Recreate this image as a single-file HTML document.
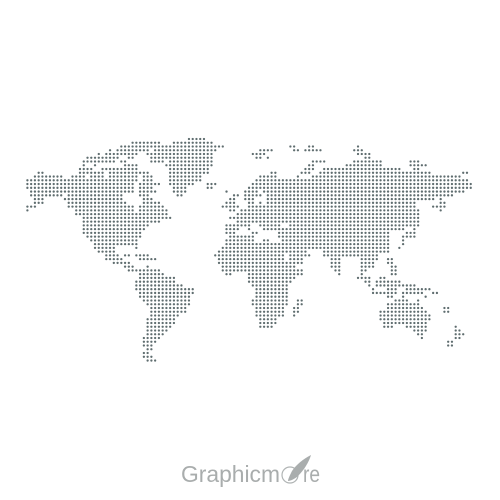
<!DOCTYPE html>
<html>
<head>
<meta charset="utf-8">
<title>Dotted World Map</title>
<style>
html,body{margin:0;padding:0;background:#fff;width:500px;height:500px;overflow:hidden}
svg{display:block}
</style>
</head>
<body>
<svg id="map" width="500" height="500" viewBox="0 0 500 500" xmlns="http://www.w3.org/2000/svg">
<rect width="500" height="500" fill="#ffffff"/>
<g id="dots"></g>
<g>
<text x="181" y="482" font-family="'Liberation Sans',sans-serif" font-size="23" fill="#a9adad" textLength="99" lengthAdjust="spacingAndGlyphs">Graphicm</text>
<circle cx="290" cy="475" r="8" fill="none" stroke="#b0b4b4" stroke-width="1.2"/>
<path d="M311 455 C303 459 296 465 292 471 C290 475 288 479 288 481 C290 481 295 479 298 476 C304 470 309 462 311 455Z" fill="#a9adad"/>
<text x="303" y="482" font-family="'Liberation Sans',sans-serif" font-size="23" fill="#a9adad" textLength="17" lengthAdjust="spacingAndGlyphs">re</text>
</g>
</svg>
<script>
const rowRuns = [
"43-47",
"28-35 39-49",
"25-33 34-52 70-71 75-76 88",
"22 24-32 34-50 62-65 71-72 74-78 87-89",
"19 21-22 23-29 32-49 60-63 88-91",
"16-20 21-23 24 27-28 33-49 61-62 64 90-91",
"15-23 25-26 33-36 38-49 76-79 87-94 102-104",
"15 18 26-29 37-49 75-76 85-94 102-106",
"14-17 20-29 38-48 74-76 79-99 103-104",
"3-4 14-20 22-24 25-32 38-48 65-66 73-75 78-107 116-117",
"2-9 12-15 17-20 22-29 31-33 38-46 62-66 72 76-115",
"0-29 31 32-33 38-46 61-117",
"0-28 30-31 32-35 38-44 48-50 60-118",
"0-28 30-33 39-42 48-49 59-118",
"1-28 30-34 39-42 53 58-61 63-116",
"1-9 11-25 30-32 40-41 55-56 58-62 64-113",
"2-4 10-25 31-33 54-55 58-60 64-108 110",
"2-4 11-26 31-35 53-55 59-60 62 64-103 110-111",
"0-2 11-28 30-36 52-56 59-103 108-111",
"0 13-28 30-37 54-55 57-104 110",
"13-31 32-37 56-104",
"15-35 36-38 54-55 56-104",
"15-35 56-104",
"15-32 53-56 57-59 62-67 70-104",
"15-31 53-56 59 63-100 103",
"15-30 53-55 60-61 67-96 101-103",
"16-30 54-60 67-96 100-103",
"17-29 53-60 63-64 68-96 100",
"18-29 53-66 67-96 100",
"18-23 29 52-73 74-96 99",
"19-23 51-71 72-74 79-96",
"21-24 26-27 29-32 50-68 70-75 79-93",
"21-25 30-34 51-68 70-73 81-83 89-93 96-97",
"23-27 51-73 81-83 89-92 96-97",
"26-28 32 52-71 81-83 89-92 97-98",
"27-35 52-73 82-83 89-90 97-98",
"30-36 53-54 59-73 83 89 97-98",
"30-39 59-71 88-91 94-95",
"29-39 59-70 90-91 93-99",
"29-41 60-69 91 93-103",
"29-44 61-69 92 96-98 101-107",
"30-44 61-69 92-98 100-105 108-109",
"30-43 61-69 96-97 100 106",
"31-43 60-69 72-73 98-101 104",
"32-43 60-69 72-73 96-104",
"33-42 61-68 71-72 96-105 111-112",
"33-42 61-68 71-72 94-106 111-112",
"33-40 61-68 71 94-107",
"32-39 62-66 94-107",
"32-39 62-66 95-100 101-106",
"32-38 62-65 95-97 101-106 114",
"32-37 103-106 114-115",
"32-36 104-105 114-116",
"31-35 105 114-115",
"31-34 112-113",
"31-33 112-113",
"32-33",
"31-32",
"31-33",
"32-34"
];
const dotColor = "#5f6d6f";
function columnX(c){ return 27.4 + 3.757 * c; }
function rowY(r){ return 139 + 3.755 * r; }
const dotsGroup = document.getElementById('dots');
rowRuns.forEach(function(line, r){
  line.split(' ').forEach(function(run){
    const parts = run.split('-').map(Number);
    const end = parts.length > 1 ? parts[1] : parts[0];
    for (let c = parts[0]; c <= end; c++) {
      const dot = document.createElementNS('http://www.w3.org/2000/svg', 'circle');
      dot.setAttribute('cx', columnX(c));
      dot.setAttribute('cy', rowY(r));
      dot.setAttribute('r', 1.15);
      dot.setAttribute('fill', dotColor);
      
      
      dotsGroup.appendChild(dot);
    }
  });
});
</script>
</body>
</html>
